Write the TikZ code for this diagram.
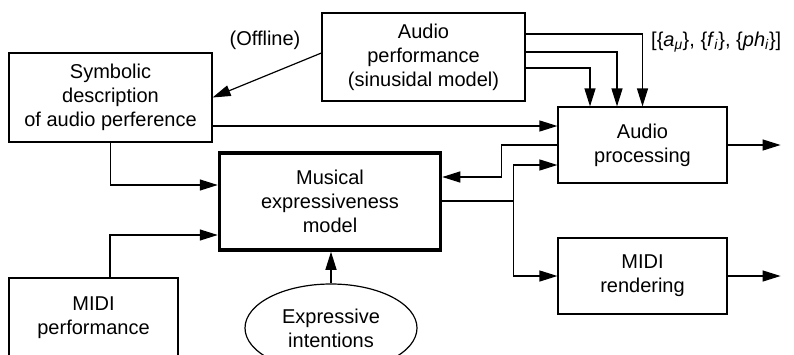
\documentclass[tikz,border=0pt]{standalone}
\usepackage{fontspec}
\setmainfont{Liberation Sans}
\usetikzlibrary{arrows.meta,shapes.geometric}
\newcommand\txtsize{\fontsize{20}{24}\selectfont}
\tikzset{
    box/.style={draw, line width=1.2pt, align=center, font=\txtsize},
    arr/.style={line width=1.2pt, -{Triangle[length=18pt,width=11pt]}},
    link/.style={line width=1.2pt}
}
\begin{document}
\begin{tikzpicture}[x=1pt,y=-1pt]
                \useasboundingbox (0,0) rectangle (794,354);
                \clip (0,0) rectangle (794,354);
                % blocks
                \node[box, minimum width=203pt, minimum height=89pt] (sym) at (110.5,97.5)
                    {Symbolic\\description\\of audio perference};
                \node[box, minimum width=203pt, minimum height=88pt] (audperf) at (423.5,57)
                    {Audio\\performance\\(sinusidal model)};
                \node[box, minimum width=169pt, minimum height=76pt] (audproc) at (642.5,145)
                    {Audio\\processing};
                \node[box, line width=3.5pt, minimum width=221pt, minimum height=97pt] (model) at (330,201.5)
                    {Musical\\expressiveness\\model};
                \node[box, minimum width=169pt, minimum height=80pt] (midiperf) at (93.5,318)
                    {MIDI\\performance};
                \node[box, minimum width=169pt, minimum height=76pt] (midirend) at (642.5,276)
                    {MIDI\\rendering};
                \node[box, ellipse, minimum width=172pt, minimum height=88pt, inner sep=0pt] (intent) at (331,328)
                    {Expressive\\intentions};
                % labels
                \node[font=\txtsize] (offline) at (265,40) {(Offline)};
                \node[font=\txtsize, anchor=west, inner sep=0pt] (params) at (651,42)
                    {[\{\textit{a}\textsubscript{\textit{μ}}\}, \{\textit{f}\textsubscript{\textit{i}}\}, \{\textit{ph}\textsubscript{\textit{i}}\}]};
                % connectors
                \foreach \dy/\dx in {23/0,5/-25.5,-11/-52.5}
                    \draw[arr] ([yshift=\dy pt]audperf.east) -| ([xshift=\dx pt]audproc.north);
                \draw[arr] ([yshift=4pt]audperf.west) -- (sym.east);
                \draw[arr] ([yshift=-28.5pt]sym.east) -- ([yshift=19pt]audproc.west);
                \draw[arr] (audproc.west) -- ++(-56,0) |- ([yshift=24.5pt]model.east);
                \draw[link] ([yshift=0.5pt]model.east) -- ++(71,0) coordinate (split);
                \draw[arr] (split) |- ([yshift=-20pt]audproc.west);
                \draw[arr] (split) |- (midirend.west);
                \draw[arr] (audproc.east) -- ++(53,0) coordinate (audout);
                \draw[arr] (midirend.east) -- ++(53,0) coordinate (midiout);
                \draw[arr] (sym.south) |- ([yshift=16.5pt]model.west);
                \draw[arr] ([xshift=16.5pt]midiperf.north) |- ([yshift=-33.5pt]model.west);
                \draw[arr] (intent.north) -- (intent.north |- model.south);
\end{tikzpicture}
\end{document}
